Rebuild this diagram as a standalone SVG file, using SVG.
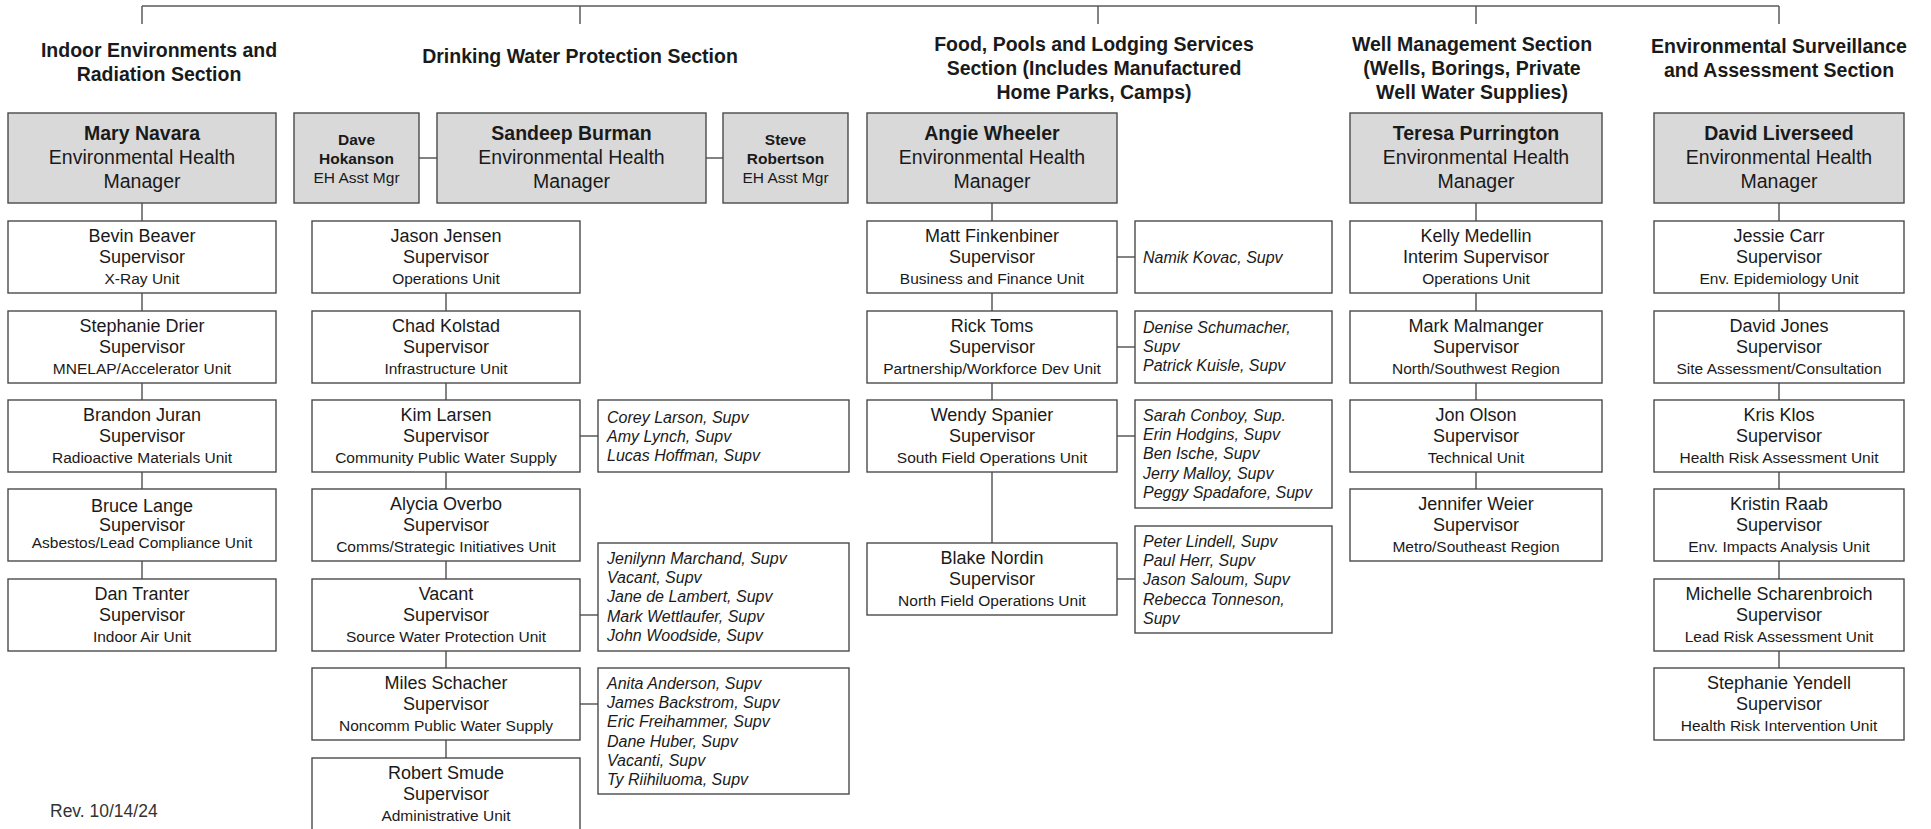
<svg xmlns="http://www.w3.org/2000/svg" width="1931" height="829" viewBox="0 0 1931 829">
<style>
text{font-family:"Liberation Sans",Arial,sans-serif;fill:#1a1a1a;text-anchor:middle}
.h{font-size:19.5px;font-weight:bold}
.mb{font-size:19.5px;font-weight:bold}
.mr{font-size:19.5px}
.ab{font-size:15.5px;font-weight:bold}
.ar{font-size:15.5px}
.n{font-size:18px}
.u{font-size:15.5px}
.l{font-size:16px;font-style:italic;text-anchor:start}
.rev{font-size:17.5px;text-anchor:start;fill:#333}
.mgr{fill:#d9d9d9;stroke:#4a4a4a;stroke-width:1.4}
.box{fill:#fff;stroke:#4a4a4a;stroke-width:1.4}
.c line{stroke:#5a5a5a;stroke-width:1.5}
</style>
<rect width="1931" height="829" fill="#fff"/>
<g class="c" id="connectors">
<line x1="142" y1="6" x2="1779" y2="6"/>
<line x1="142" y1="6" x2="142" y2="24"/>
<line x1="580" y1="6" x2="580" y2="24"/>
<line x1="1098" y1="6" x2="1098" y2="24"/>
<line x1="1476" y1="6" x2="1476" y2="24"/>
<line x1="1779" y1="6" x2="1779" y2="24"/>
<line x1="142" y1="203" x2="142" y2="221"/>
<line x1="142" y1="293" x2="142" y2="311"/>
<line x1="142" y1="383" x2="142" y2="400"/>
<line x1="142" y1="472" x2="142" y2="489"/>
<line x1="142" y1="561" x2="142" y2="579"/>
<line x1="419" y1="158" x2="437" y2="158"/>
<line x1="706" y1="158" x2="723" y2="158"/>
<line x1="446" y1="293" x2="446" y2="311"/>
<line x1="446" y1="383" x2="446" y2="400"/>
<line x1="446" y1="472" x2="446" y2="489"/>
<line x1="446" y1="561" x2="446" y2="579"/>
<line x1="446" y1="651" x2="446" y2="668"/>
<line x1="446" y1="740" x2="446" y2="758"/>
<line x1="580" y1="436" x2="598" y2="436"/>
<line x1="580" y1="615" x2="598" y2="615"/>
<line x1="580" y1="704" x2="598" y2="704"/>
<line x1="992" y1="203" x2="992" y2="221"/>
<line x1="992" y1="293" x2="992" y2="311"/>
<line x1="992" y1="383" x2="992" y2="400"/>
<line x1="992" y1="472" x2="992" y2="543"/>
<line x1="1117" y1="257" x2="1135" y2="257"/>
<line x1="1117" y1="347" x2="1135" y2="347"/>
<line x1="1117" y1="436" x2="1135" y2="436"/>
<line x1="1117" y1="579" x2="1135" y2="579"/>
<line x1="1476" y1="203" x2="1476" y2="221"/>
<line x1="1476" y1="293" x2="1476" y2="311"/>
<line x1="1476" y1="383" x2="1476" y2="400"/>
<line x1="1476" y1="472" x2="1476" y2="489"/>
<line x1="1779" y1="203" x2="1779" y2="221"/>
<line x1="1779" y1="293" x2="1779" y2="311"/>
<line x1="1779" y1="383" x2="1779" y2="400"/>
<line x1="1779" y1="472" x2="1779" y2="489"/>
<line x1="1779" y1="561" x2="1779" y2="579"/>
<line x1="1779" y1="651" x2="1779" y2="668"/>
</g>
<g id="headers">
<text class="h" x="159" y="57">Indoor Environments and</text>
<text class="h" x="159" y="81">Radiation Section</text>
<text class="h" x="580" y="63">Drinking Water Protection Section</text>
<text class="h" x="1094" y="51">Food, Pools and Lodging Services</text>
<text class="h" x="1094" y="75">Section (Includes Manufactured</text>
<text class="h" x="1094" y="99">Home Parks, Camps)</text>
<text class="h" x="1472" y="51">Well Management Section</text>
<text class="h" x="1472" y="75">(Wells, Borings, Private</text>
<text class="h" x="1472" y="99">Well Water Supplies)</text>
<text class="h" x="1779" y="53">Environmental Surveillance</text>
<text class="h" x="1779" y="77">and Assessment Section</text>
</g>
<g id="mary"><rect class="mgr" x="8" y="113" width="268" height="90"/><text class="mb" x="142" y="140">Mary Navara</text><text class="mr" x="142" y="164">Environmental Health</text><text class="mr" x="142" y="188">Manager</text></g>
<g id="dave"><rect class="mgr" x="294" y="113" width="125" height="90"/><text class="ab" x="356.5" y="145">Dave</text><text class="ab" x="356.5" y="164">Hokanson</text><text class="ar" x="356.5" y="183">EH Asst Mgr</text></g>
<g id="sandeep"><rect class="mgr" x="437" y="113" width="269" height="90"/><text class="mb" x="571.5" y="140">Sandeep Burman</text><text class="mr" x="571.5" y="164">Environmental Health</text><text class="mr" x="571.5" y="188">Manager</text></g>
<g id="steve"><rect class="mgr" x="723" y="113" width="125" height="90"/><text class="ab" x="785.5" y="145">Steve</text><text class="ab" x="785.5" y="164">Robertson</text><text class="ar" x="785.5" y="183">EH Asst Mgr</text></g>
<g id="angie"><rect class="mgr" x="867" y="113" width="250" height="90"/><text class="mb" x="992" y="140">Angie Wheeler</text><text class="mr" x="992" y="164">Environmental Health</text><text class="mr" x="992" y="188">Manager</text></g>
<g id="teresa"><rect class="mgr" x="1350" y="113" width="252" height="90"/><text class="mb" x="1476" y="140">Teresa Purrington</text><text class="mr" x="1476" y="164">Environmental Health</text><text class="mr" x="1476" y="188">Manager</text></g>
<g id="david"><rect class="mgr" x="1654" y="113" width="250" height="90"/><text class="mb" x="1779" y="140">David Liverseed</text><text class="mr" x="1779" y="164">Environmental Health</text><text class="mr" x="1779" y="188">Manager</text></g>

<g id="bevin"><rect class="box" x="8" y="221" width="268" height="72"/><text class="n" x="142" y="241.5">Bevin Beaver</text><text class="n" x="142" y="263">Supervisor</text><text class="u" x="142" y="284">X-Ray Unit</text></g>
<g id="stephanie-d"><rect class="box" x="8" y="311" width="268" height="72"/><text class="n" x="142" y="331.5">Stephanie Drier</text><text class="n" x="142" y="353">Supervisor</text><text class="u" x="142" y="374">MNELAP/Accelerator Unit</text></g>
<g id="brandon"><rect class="box" x="8" y="400" width="268" height="72"/><text class="n" x="142" y="420.5">Brandon Juran</text><text class="n" x="142" y="442">Supervisor</text><text class="u" x="142" y="463">Radioactive Materials Unit</text></g>
<g id="bruce"><rect class="box" x="8" y="489" width="268" height="72"/><text class="n" x="142" y="512">Bruce Lange</text><text class="n" x="142" y="531">Supervisor</text><text class="u" x="142" y="548">Asbestos/Lead Compliance Unit</text></g>
<g id="dan"><rect class="box" x="8" y="579" width="268" height="72"/><text class="n" x="142" y="599.5">Dan Tranter</text><text class="n" x="142" y="621">Supervisor</text><text class="u" x="142" y="642">Indoor Air Unit</text></g>

<g id="jason"><rect class="box" x="312" y="221" width="268" height="72"/><text class="n" x="446" y="241.5">Jason Jensen</text><text class="n" x="446" y="263">Supervisor</text><text class="u" x="446" y="284">Operations Unit</text></g>
<g id="chad"><rect class="box" x="312" y="311" width="268" height="72"/><text class="n" x="446" y="331.5">Chad Kolstad</text><text class="n" x="446" y="353">Supervisor</text><text class="u" x="446" y="374">Infrastructure Unit</text></g>
<g id="kim"><rect class="box" x="312" y="400" width="268" height="72"/><text class="n" x="446" y="420.5">Kim Larsen</text><text class="n" x="446" y="442">Supervisor</text><text class="u" x="446" y="463">Community Public Water Supply</text></g>
<g id="alycia"><rect class="box" x="312" y="489" width="268" height="72"/><text class="n" x="446" y="509.5">Alycia Overbo</text><text class="n" x="446" y="531">Supervisor</text><text class="u" x="446" y="552">Comms/Strategic Initiatives Unit</text></g>
<g id="vacant"><rect class="box" x="312" y="579" width="268" height="72"/><text class="n" x="446" y="599.5">Vacant</text><text class="n" x="446" y="621">Supervisor</text><text class="u" x="446" y="642">Source Water Protection Unit</text></g>
<g id="miles"><rect class="box" x="312" y="668" width="268" height="72"/><text class="n" x="446" y="688.5">Miles Schacher</text><text class="n" x="446" y="710">Supervisor</text><text class="u" x="446" y="731">Noncomm Public Water Supply</text></g>
<g id="robert"><rect class="box" x="312" y="758" width="268" height="72"/><text class="n" x="446" y="778.5">Robert Smude</text><text class="n" x="446" y="800">Supervisor</text><text class="u" x="446" y="821">Administrative Unit</text></g>

<g id="kim-list"><rect class="box" x="598" y="400" width="251" height="72"/><text class="l" x="607" y="422.5">Corey Larson, Supv</text><text class="l" x="607" y="441.5">Amy Lynch, Supv</text><text class="l" x="607" y="460.5">Lucas Hoffman, Supv</text></g>
<g id="vacant-list"><rect class="box" x="598" y="543" width="251" height="108"/><text class="l" x="607" y="564">Jenilynn Marchand, Supv</text><text class="l" x="607" y="583.2">Vacant, Supv</text><text class="l" x="607" y="602.4">Jane de Lambert, Supv</text><text class="l" x="607" y="621.6">Mark Wettlaufer, Supv</text><text class="l" x="607" y="640.8">John Woodside, Supv</text></g>
<g id="miles-list"><rect class="box" x="598" y="668" width="251" height="126"/><text class="l" x="607" y="689">Anita Anderson, Supv</text><text class="l" x="607" y="708.2">James Backstrom, Supv</text><text class="l" x="607" y="727.4">Eric Freihammer, Supv</text><text class="l" x="607" y="746.6">Dane Huber, Supv</text><text class="l" x="607" y="765.8">Vacanti, Supv</text><text class="l" x="607" y="785">Ty Riihiluoma, Supv</text></g>

<g id="matt"><rect class="box" x="867" y="221" width="250" height="72"/><text class="n" x="992" y="241.5">Matt Finkenbiner</text><text class="n" x="992" y="263">Supervisor</text><text class="u" x="992" y="284">Business and Finance Unit</text></g>
<g id="rick"><rect class="box" x="867" y="311" width="250" height="72"/><text class="n" x="992" y="331.5">Rick Toms</text><text class="n" x="992" y="353">Supervisor</text><text class="u" x="992" y="374">Partnership/Workforce Dev Unit</text></g>
<g id="wendy"><rect class="box" x="867" y="400" width="250" height="72"/><text class="n" x="992" y="420.5">Wendy Spanier</text><text class="n" x="992" y="442">Supervisor</text><text class="u" x="992" y="463">South Field Operations Unit</text></g>
<g id="blake"><rect class="box" x="867" y="543" width="250" height="72"/><text class="n" x="992" y="563.5">Blake Nordin</text><text class="n" x="992" y="585">Supervisor</text><text class="u" x="992" y="606">North Field Operations Unit</text></g>

<g id="matt-list"><rect class="box" x="1135" y="221" width="197" height="72"/><text class="l" x="1143" y="262.5">Namik Kovac, Supv</text></g>
<g id="rick-list"><rect class="box" x="1135" y="311" width="197" height="72"/><text class="l" x="1143" y="333">Denise Schumacher,</text><text class="l" x="1143" y="352">Supv</text><text class="l" x="1143" y="371">Patrick Kuisle, Supv</text></g>
<g id="wendy-list"><rect class="box" x="1135" y="400" width="197" height="108"/><text class="l" x="1143" y="421">Sarah Conboy, Sup.</text><text class="l" x="1143" y="440.2">Erin Hodgins, Supv</text><text class="l" x="1143" y="459.4">Ben Ische, Supv</text><text class="l" x="1143" y="478.6">Jerry Malloy, Supv</text><text class="l" x="1143" y="497.8">Peggy Spadafore, Supv</text></g>
<g id="blake-list"><rect class="box" x="1135" y="526" width="197" height="107"/><text class="l" x="1143" y="547">Peter Lindell, Supv</text><text class="l" x="1143" y="566.2">Paul Herr, Supv</text><text class="l" x="1143" y="585.4">Jason Saloum, Supv</text><text class="l" x="1143" y="604.6">Rebecca Tonneson,</text><text class="l" x="1143" y="623.8">Supv</text></g>

<g id="kelly"><rect class="box" x="1350" y="221" width="252" height="72"/><text class="n" x="1476" y="241.5">Kelly Medellin</text><text class="n" x="1476" y="263">Interim Supervisor</text><text class="u" x="1476" y="284">Operations Unit</text></g>
<g id="mark"><rect class="box" x="1350" y="311" width="252" height="72"/><text class="n" x="1476" y="331.5">Mark Malmanger</text><text class="n" x="1476" y="353">Supervisor</text><text class="u" x="1476" y="374">North/Southwest Region</text></g>
<g id="jon"><rect class="box" x="1350" y="400" width="252" height="72"/><text class="n" x="1476" y="420.5">Jon Olson</text><text class="n" x="1476" y="442">Supervisor</text><text class="u" x="1476" y="463">Technical Unit</text></g>
<g id="jennifer"><rect class="box" x="1350" y="489" width="252" height="72"/><text class="n" x="1476" y="509.5">Jennifer Weier</text><text class="n" x="1476" y="531">Supervisor</text><text class="u" x="1476" y="552">Metro/Southeast Region</text></g>

<g id="jessie"><rect class="box" x="1654" y="221" width="250" height="72"/><text class="n" x="1779" y="241.5">Jessie Carr</text><text class="n" x="1779" y="263">Supervisor</text><text class="u" x="1779" y="284">Env. Epidemiology Unit</text></g>
<g id="david-j"><rect class="box" x="1654" y="311" width="250" height="72"/><text class="n" x="1779" y="331.5">David Jones</text><text class="n" x="1779" y="353">Supervisor</text><text class="u" x="1779" y="374">Site Assessment/Consultation</text></g>
<g id="kris"><rect class="box" x="1654" y="400" width="250" height="72"/><text class="n" x="1779" y="420.5">Kris Klos</text><text class="n" x="1779" y="442">Supervisor</text><text class="u" x="1779" y="463">Health Risk Assessment Unit</text></g>
<g id="kristin"><rect class="box" x="1654" y="489" width="250" height="72"/><text class="n" x="1779" y="509.5">Kristin Raab</text><text class="n" x="1779" y="531">Supervisor</text><text class="u" x="1779" y="552">Env. Impacts Analysis Unit</text></g>
<g id="michelle"><rect class="box" x="1654" y="579" width="250" height="72"/><text class="n" x="1779" y="599.5">Michelle Scharenbroich</text><text class="n" x="1779" y="621">Supervisor</text><text class="u" x="1779" y="642">Lead Risk Assessment Unit</text></g>
<g id="stephanie-y"><rect class="box" x="1654" y="668" width="250" height="72"/><text class="n" x="1779" y="688.5">Stephanie Yendell</text><text class="n" x="1779" y="710">Supervisor</text><text class="u" x="1779" y="731">Health Risk Intervention Unit</text></g>

<text class="rev" x="50" y="817">Rev. 10/14/24</text>
</svg>
